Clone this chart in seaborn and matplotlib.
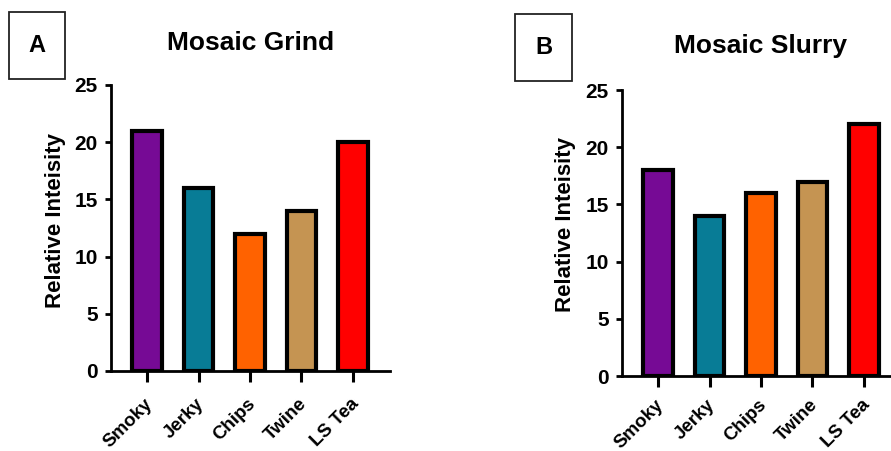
import matplotlib
matplotlib.use("Agg")
import matplotlib.pyplot as plt
from matplotlib.patches import Rectangle
from matplotlib.transforms import ScaledTranslation
import seaborn as sns

categories = ["Smoky", "Jerky", "Chips", "Twine", "LS Tea"]
grind_values = [21, 16, 12, 14, 20]
slurry_values = [18, 14, 16, 17, 22]
bar_colors = ["#760A95", "#087C96", "#FF6200", "#C59452", "#FF0000"]
yticks = [0, 5, 10, 15, 20, 25]
titles = ["Mosaic Grind", "Mosaic Slurry"]
panel_letters = ["A", "B"]
ylabel = "Relative Inteisity"

sns.set_theme(style="ticks")
plt.rcParams["font.family"] = ["Liberation Sans", "DejaVu Sans"]
plt.rcParams["font.weight"] = "bold"
plt.rcParams["text.color"] = "black"
plt.rcParams["axes.labelcolor"] = "black"
plt.rcParams["xtick.color"] = "black"
plt.rcParams["ytick.color"] = "black"

W, H = 891, 451
fig = plt.figure(figsize=(W / 100, H / 100), dpi=100)

# axes boxes in pixel coords: left, top, right, bottom
boxes = [(111, 85, 390, 371), (622, 90, 901, 376)]
letter_boxes = [(9, 12, 65, 79), (515, 14, 572, 81)]
title_pos = [(251, 43), (761, 46)]
ylabel_x = [55, 565]
label_shift = [(-3, -9), (-3, -5)]

for i, vals in enumerate([grind_values, slurry_values]):
    l, t, r, b = boxes[i]
    ax = fig.add_axes([l / W, 1 - b / H, (r - l) / W, (b - t) / H])
    sns.barplot(x=categories, y=vals, hue=categories, palette=bar_colors,
                legend=False, ax=ax, width=0.58, edgecolor="black",
                linewidth=3, saturation=1)
    ax.set_xlim(-0.7, 4.72)
    ax.set_ylim(0, 25)
    ax.set_yticks(yticks)
    ax.set_ylabel("")
    ax.set_xlabel("")
    for s in ["top", "right"]:
        ax.spines[s].set_visible(False)
    for s in ["left", "bottom"]:
        ax.spines[s].set_linewidth(2)
        ax.spines[s].set_color("black")
    ax.tick_params(axis="y", length=4, width=2, labelsize=15, pad=5.5, colors="black")
    ax.tick_params(axis="x", length=8, width=2.2, labelsize=13.5, pad=3, colors="black")
    dx, dy = label_shift[i]
    offset = ScaledTranslation(dx / 100, dy / 100, fig.dpi_scale_trans)
    for lab in ax.get_xticklabels():
        lab.set_rotation(45)
        lab.set_ha("right")
        lab.set_rotation_mode("anchor")
        lab.set_fontweight("bold")
        lab.set_transform(lab.get_transform() + offset)
    for lab in ax.get_yticklabels():
        lab.set_fontweight("bold")

    tx, ty = title_pos[i]
    fig.text(tx / W, 1 - ty / H, titles[i], ha="center", va="center",
             fontsize=19, fontweight="bold")
    fig.text(ylabel_x[i] / W, 1 - ((t + b) / 2 - 8) / H, ylabel, rotation=90,
             ha="center", va="center", fontsize=16, fontweight="bold")

    x0, y0, x1, y1 = letter_boxes[i]
    fig.patches.append(Rectangle((x0 / W, 1 - y1 / H), (x1 - x0) / W, (y1 - y0) / H,
                                 transform=fig.transFigure, fill=False,
                                 edgecolor="#222222", linewidth=1.3))
    fig.text(((x0 + x1) / 2) / W, 1 - ((y0 + y1) / 2) / H, panel_letters[i],
             ha="center", va="center", fontsize=17, fontweight="bold")

fig.savefig("out.png", dpi=100, facecolor="white")
